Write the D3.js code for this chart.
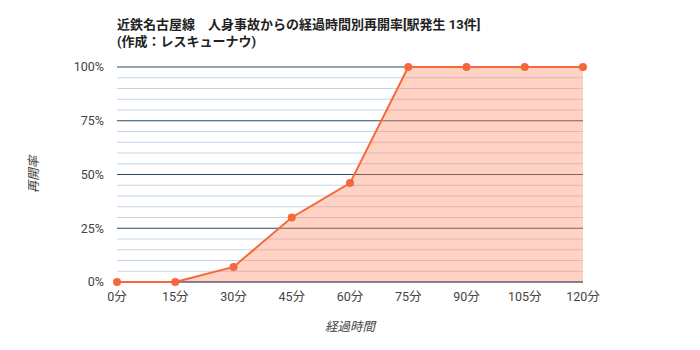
<!DOCTYPE html>
<html>
<head>
<meta charset="utf-8">
<script src="https://cdn.jsdelivr.net/npm/d3@7"></script>
<style>
  body { margin: 0; background: #fff; }
  text { font-family: Roboto, "Noto Sans CJK JP", sans-serif; }
</style>
</head>
<body>
<script>
// elapsed time (minutes) and reopening rate (%)
const minutes = [0, 15, 30, 45, 60, 75, 90, 105, 120]
const rate = [0, 0, 7, 30, 46, 100, 100, 100, 100]
const yTicks = [0, 25, 50, 75, 100]

const W = 700, H = 350
const m = { left: 117, right: 117, top: 67, bottom: 68 }

svg = d3.select("body").append("svg").attr("width", W).attr("height", H)

x = d3.scaleLinear().domain([0, 120]).range([m.left, W - m.right])
y = d3.scaleLinear().domain([0, 100]).range([H - m.bottom, m.top])

// minor gridlines every 5%
minor = d3.range(0, 101, 5).filter(v => v % 25 != 0)
svg.append("g").selectAll("line").data(minor).enter().append("line")
    .attr("x1", x(0)).attr("x2", x(120))
    .attr("y1", d => y(d)).attr("y2", d => y(d))
    .attr("stroke", "#c5d3ea").attr("stroke-width", 1)

svg.append("g").selectAll("line").data(yTicks.slice(1)).enter().append("line")
    .attr("x1", x(0)).attr("x2", x(120))
    .attr("y1", d => y(d)).attr("y2", d => y(d))
    .attr("stroke", "#2d4a66").attr("stroke-width", 1)

pts = minutes.map((t, i) => [t, rate[i]])

area = d3.area().x(d => x(d[0])).y0(y(0)).y1(d => y(d[1]))
svg.append("path").datum(pts).attr("d", area)
    .attr("fill", "#ff8a65").attr("fill-opacity", 0.38)

// baseline
svg.append("line").attr("x1", x(0)).attr("x2", x(120))
    .attr("y1", y(0)).attr("y2", y(0))
    .attr("stroke", "#1c1040").attr("stroke-width", 1)

line = d3.line().x(d => x(d[0])).y(d => y(d[1]))
svg.append("path").datum(pts).attr("d", line)
    .attr("fill", "none").attr("stroke", "#f4683a").attr("stroke-width", 2)

svg.append("g").selectAll("circle").data(pts).enter().append("circle")
    .attr("cx", d => x(d[0])).attr("cy", d => y(d[1])).attr("r", 4)
    .attr("fill", "#f4683a")

// axis labels
svg.append("g").selectAll("text").data(yTicks).enter().append("text")
    .attr("x", m.left - 13).attr("y", d => y(d)).attr("dy", "0.35em")
    .attr("text-anchor", "end").attr("font-size", 12.5).attr("fill", "#444")
    .text(d => d + "%")

svg.append("g").selectAll("text").data(minutes).enter().append("text")
    .attr("x", d => x(d)).attr("y", y(0) + 19)
    .attr("text-anchor", "middle").attr("font-size", 12.5).attr("fill", "#444")
    .text(d => d + "分")

svg.append("text").attr("x", (x(0) + x(120)) / 2).attr("y", 331)
    .attr("text-anchor", "middle").attr("font-size", 12.5).attr("font-style", "italic")
    .attr("fill", "#444").text("経過時間")

svg.append("text").attr("transform", "translate(38," + ((y(0) + y(100)) / 2) + ") rotate(-90)")
    .attr("text-anchor", "middle").attr("font-size", 12.5).attr("font-style", "italic")
    .attr("fill", "#444").text("再開率")

// title
svg.append("text").attr("x", 117).attr("y", 29)
    .attr("font-size", 13).attr("font-weight", "bold").attr("fill", "#222")
    .text("近鉄名古屋線　人身事故からの経過時間別再開率[駅発生 13件]")
svg.append("text").attr("x", 117).attr("y", 46)
    .attr("font-size", 13).attr("font-weight", "bold").attr("fill", "#222")
    .text("(作成：レスキューナウ)")
</script>
</body>
</html>
